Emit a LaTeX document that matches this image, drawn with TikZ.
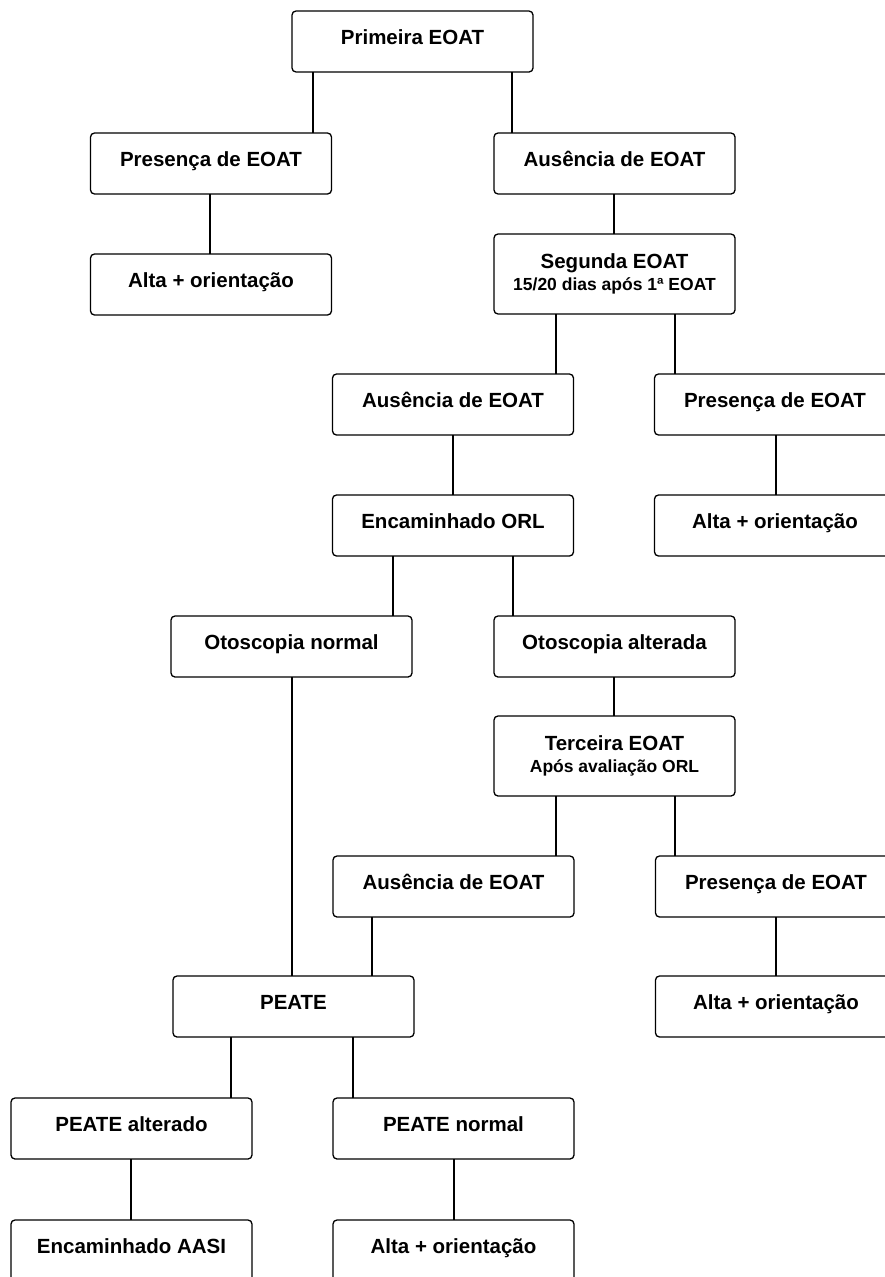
\documentclass[tikz,border=0pt]{standalone}
\usepackage{fontspec}
\setmainfont{Liberation Sans}
\usetikzlibrary{positioning}

\newcommand{\vlink}[3]{\draw[link] (#1.south -| #3,0) -- (#2.north -| #3,0);}

\begin{document}
\begin{tikzpicture}[x=1pt,y=-1pt,
	base/.style={rectangle,rounded corners=4pt,draw,line width=1.3pt,inner sep=0pt,outer sep=0pt,
		minimum width=241pt,font=\fontsize{20.5}{24}\selectfont\bfseries},
	main node/.style={base,minimum height=61pt,text height=15pt,text depth=9pt},
	two node/.style={base,minimum height=80pt,align=center},
	link/.style={line width=1.3pt}]

	\useasboundingbox (0,0) rectangle (885,1277);
	\clip (0,0) rectangle (885,1277);

	\node[main node] (P1) at (412.5,41.5) {Primeira EOAT};
	\node[main node] (PR1) [below=61pt of P1,xshift=-201.5pt] {Presença de EOAT};
	\node[main node] (AU1) [below=61pt of P1,xshift=202pt] {Ausência de EOAT};
	\node[main node] (AL1) [below=60pt of PR1] {Alta + orientação};
	\node[two node] (S2) [below=40pt of AU1] {Segunda EOAT\\[-2pt]\fontsize{17.5}{20}\selectfont 15/20 dias após 1ª EOAT};
	\node[main node] (AU2) [below=60pt of S2,xshift=-161.5pt] {Ausência de EOAT};
	\node[main node] (PR2) [below=60pt of S2,xshift=160.5pt] {Presença de EOAT};
	\node[main node] (ORL) [below=60pt of AU2] {Encaminhado ORL};
	\node[main node] (AL2) [below=60pt of PR2] {Alta + orientação};
	\node[main node] (ON) [below=60pt of ORL,xshift=-161.5pt] {Otoscopia normal};
	\node[main node] (OA) [below=60pt of ORL,xshift=161.5pt] {Otoscopia alterada};
	\node[two node] (T3) [below=39pt of OA] {Terceira EOAT\\[-2pt]\fontsize{17.5}{20}\selectfont Após avaliação ORL};
	\node[main node] (AU3) [below=60pt of T3,xshift=-161pt] {Ausência de EOAT};
	\node[main node] (PR3) [below=60pt of T3,xshift=161.5pt] {Presença de EOAT};
	\node[main node] (PE) [below=59pt of AU3,xshift=-160pt] {PEATE};
	\node[main node] (AL3) [below=59pt of PR3] {Alta + orientação};
	\node[main node] (PA) [below=61pt of PE,xshift=-162pt] {PEATE alterado};
	\node[main node] (PN) [below=61pt of PE,xshift=160pt] {PEATE normal};
	\node[main node] (AASI) [below=61pt of PA] {Encaminhado AASI};
	\node[main node] (AL4) [below=61pt of PN] {Alta + orientação};

	\vlink{P1}{PR1}{313}
	\vlink{P1}{AU1}{512}
	\vlink{PR1}{AL1}{210}
	\vlink{AU1}{S2}{614}
	\vlink{S2}{AU2}{556}
	\vlink{S2}{PR2}{675}
	\vlink{AU2}{ORL}{453}
	\vlink{PR2}{AL2}{776}
	\vlink{ORL}{ON}{393}
	\vlink{ORL}{OA}{513}
	\vlink{OA}{T3}{614}
	\vlink{T3}{AU3}{556}
	\vlink{T3}{PR3}{675}
	\vlink{ON}{PE}{292}
	\vlink{AU3}{PE}{372}
	\vlink{PR3}{AL3}{776}
	\vlink{PE}{PA}{231}
	\vlink{PE}{PN}{353}
	\vlink{PA}{AASI}{131}
	\vlink{PN}{AL4}{454}

\end{tikzpicture}
\end{document}
